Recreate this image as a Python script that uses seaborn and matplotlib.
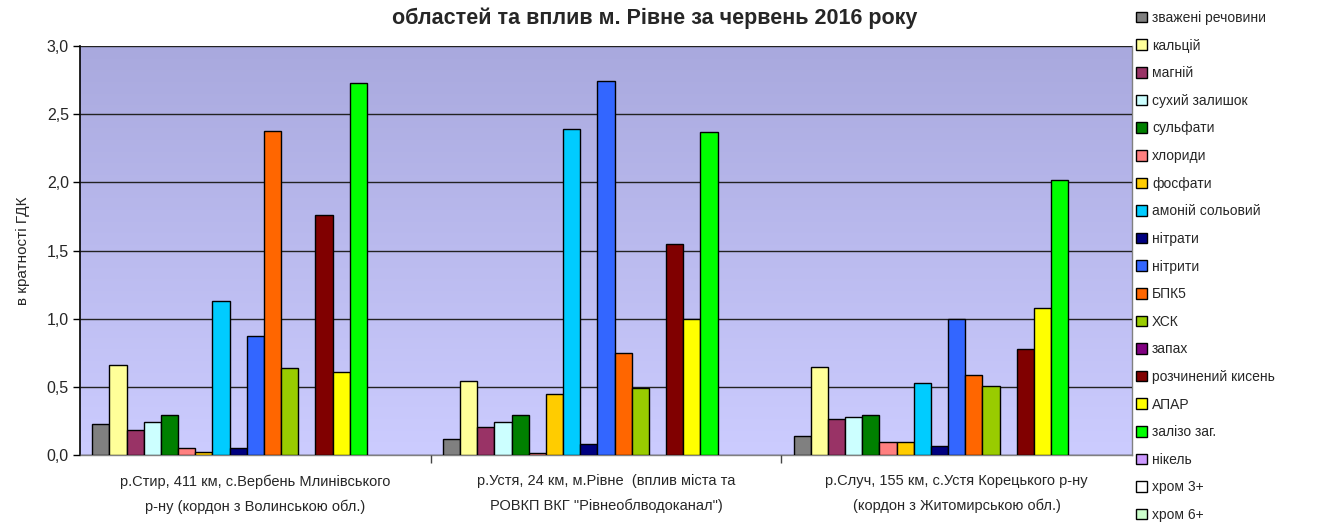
import numpy as np
import pandas as pd
import matplotlib
matplotlib.use("Agg")
import matplotlib.pyplot as plt
import seaborn as sns
from matplotlib.colors import LinearSegmentedColormap
from matplotlib.patches import Patch

sites = [
    "р.Стир, 411 км, с.Вербень Млинівського\nр-ну (кордон з Волинською обл.)",
    "р.Устя, 24 км, м.Рівне  (вплив міста та\nРОВКП ВКГ \"Рівнеоблводоканал\")",
    "р.Случ, 155 км, с.Устя Корецького р-ну\n(кордон з Житомирською обл.)",
]
params = ["зважені речовини", "кальцій", "магній", "сухий залишок", "сульфати",
          "хлориди", "фосфати", "амоній сольовий", "нітрати", "нітрити", "БПК5",
          "ХСК", "запах", "розчинений кисень", "АПАР", "залізо заг.", "нікель",
          "хром 3+", "хром 6+"]
colors = ["#808080", "#FFFF99", "#993366", "#CCFFFF", "#008000", "#FF8080",
          "#FFCC00", "#00CCFF", "#000080", "#3366FF", "#FF6600", "#99CC00",
          "#800080", "#800000", "#FFFF00", "#00FF00", "#CC99FF", "#FFFFFF",
          "#CCFFCC"]
styr = [0.23, 0.66, 0.18, 0.24, 0.29, 0.05, 0.025, 1.13, 0.05, 0.875, 2.38,
        0.635, 0.0, 1.76, 0.61, 2.73, 0.0, 0.0, 0.0]
ustia = [0.115, 0.545, 0.205, 0.24, 0.29, 0.012, 0.445, 2.39, 0.078, 2.745,
         0.75, 0.49, 0.0, 1.55, 0.995, 2.37, 0.0, 0.0, 0.0]
sluch = [0.14, 0.648, 0.267, 0.28, 0.29, 0.098, 0.098, 0.53, 0.068, 1.0,
         0.59, 0.505, 0.0, 0.775, 1.077, 2.02, 0.0, 0.0, 0.0]
yticks = [0.0, 0.5, 1.0, 1.5, 2.0, 2.5, 3.0]

rows = []
for site, vals in zip(sites, [styr, ustia, sluch]):
    for p, v in zip(params, vals):
        rows.append({"site": site, "param": p, "value": v})
df = pd.DataFrame(rows)

sns.set_theme(style="white")
plt.rcParams["font.family"] = ["Liberation Sans", "DejaVu Sans"]

fig = plt.figure(figsize=(13.22, 5.22), dpi=100)
ax = fig.add_axes([80 / 1322, 1 - 455 / 522, (1132 - 80) / 1322, (455 - 46) / 522])

# gradient background
cmap = LinearSegmentedColormap.from_list("bg", ["#CCCCFF", "#A9A9DE"])
grad = np.linspace(0, 1, 256).reshape(-1, 1)
ax.imshow(grad, aspect="auto", cmap=cmap, origin="lower",
          extent=[-0.5, 2.5, 0, 3.0], zorder=0)

sns.barplot(data=df, x="site", y="value", hue="param", hue_order=params,
            order=sites, palette=colors, width=0.93, dodge=True,
            edgecolor="black", linewidth=1.0, saturation=1, ax=ax, zorder=3,
            errorbar=None, legend=False)
for patch in ax.patches:
    if patch.get_height() == 0:
        patch.set_linewidth(0)

ax.set_xlim(-0.5, 2.5)
ax.set_ylim(0, 3.0)
ax.set_yticks(yticks)
ax.set_yticklabels([f"{t:.1f}".replace(".", ",") for t in yticks], fontsize=11.5)
ax.yaxis.grid(True, color="#222222", linewidth=1.0, zorder=1)
ax.set_axisbelow(False)
for line in ax.get_ygridlines():
    line.set_zorder(1)
ax.tick_params(axis="y", length=5, width=1, color="black", direction="out", left=True, pad=3)
ax.set_xticks([0, 1, 2])
ax.set_xticklabels(sites, fontsize=10.5, linespacing=1.9)
ax.tick_params(axis="x", length=0, pad=14)
ax.set_xticks([0.5, 1.5], minor=True)
ax.tick_params(axis="x", which="minor", length=6, color="#444444", bottom=True)
ax.set_xlabel("")
ax.set_ylabel("в кратності ГДК", fontsize=11, labelpad=12)
for s in ["top", "right", "bottom"]:
    ax.spines[s].set_color("#808080")
    ax.spines[s].set_linewidth(1)
ax.spines["left"].set_color("black")
ax.spines["left"].set_linewidth(1.2)
ax.spines["top"].set_visible(False)

fig.text(655 / 1322, 1 - 18 / 522, "областей та вплив м. Рівне за червень 2016 року",
         ha="center", va="center", fontsize=15.5, fontweight="bold")

handles = [Patch(facecolor=c, edgecolor="black", linewidth=1.0) for c in colors]
fig.legend(handles, params, loc="upper left", bbox_to_anchor=(1136 / 1322, 1 - 11 / 522),
           frameon=False, fontsize=10, handlelength=0.8, handleheight=0.8,
           handletextpad=0.35, labelspacing=0.98, borderpad=0, borderaxespad=0)

fig.savefig("out.png", dpi=100)
